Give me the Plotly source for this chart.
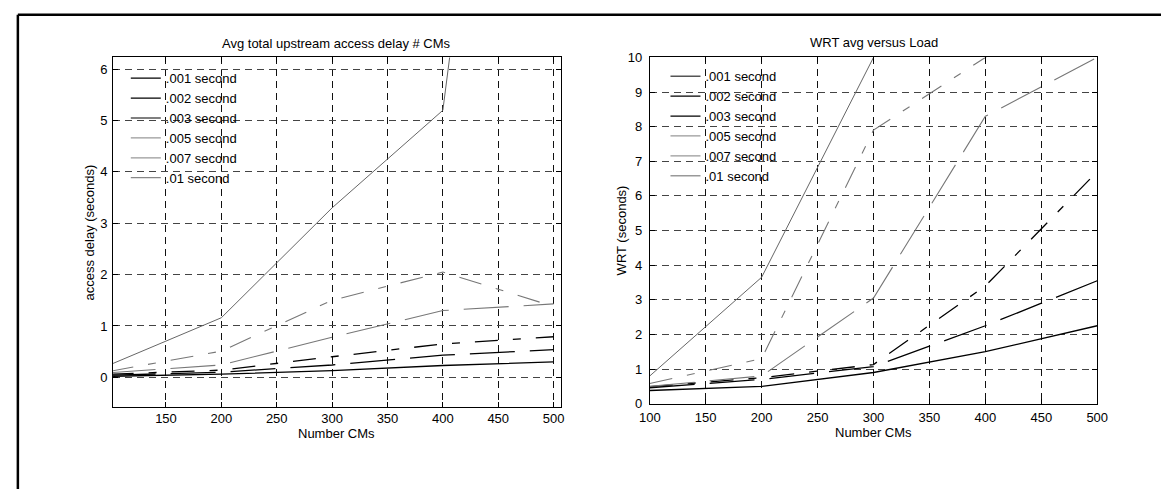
import plotly.graph_objects as go

W, H = 1172, 497

# ---------------- data ----------------
cms = [100, 200, 300, 400, 500]
series_names = [".001 second", ".002 second", ".003 second", ".005 second", ".007 second", ".01 second"]

# Left: average total upstream access delay (seconds)
delay_001 = [0.02, 0.06, 0.13, 0.23, 0.30]
delay_002 = [0.04, 0.10, 0.24, 0.43, 0.54]
delay_003 = [0.06, 0.14, 0.40, 0.65, 0.79]
delay_005 = [0.09, 0.24, 0.78, 1.30, 1.43]
delay_007 = [0.12, 0.51, 1.50, 2.05, 1.38]
delay_01 = [0.25, 1.16, 3.30, 5.20, 22.0]

# Right: WRT average (seconds)
wrt_001 = [0.38, 0.50, 0.90, 1.50, 2.25]
wrt_002 = [0.46, 0.70, 1.07, 2.25, 3.55]
wrt_003 = [0.49, 0.75, 1.13, 3.40, 6.70]
wrt_005 = [0.50, 0.80, 3.05, 8.30, 10.0]
wrt_007 = [0.58, 1.30, 7.90, 10.0, 12.0]
wrt_01 = [0.80, 3.65, 10.0, 18.0, 28.0]

left_ticks_x = [150, 200, 250, 300, 350, 400, 450, 500]
left_ticks_y = [0, 1, 2, 3, 4, 5, 6]
right_ticks_x = [100, 150, 200, 250, 300, 350, 400, 450, 500]
right_ticks_y = [0, 1, 2, 3, 4, 5, 6, 7, 8, 9, 10]

# ---------------- styles ----------------
DASH = "45px,15px"
DASHDOT = "23px,15px,8px,15px"
line_styles = [
    dict(color="#000000", width=1.3, dash="solid"),
    dict(color="#000000", width=1.3, dash=DASH),
    dict(color="#000000", width=1.3, dash=DASHDOT),
    dict(color="#777777", width=1.1, dash=DASH),
    dict(color="#777777", width=1.1, dash=DASHDOT),
    dict(color="#666666", width=1.0, dash="solid"),
]
left_legend_colors = ["#000000", "#000000", "#555555", "#999999", "#999999", "#888888"]
right_legend_colors = ["#555555", "#000000", "#000000", "#999999", "#999999", "#999999"]

FONT = "Liberation Sans, Arial, Helvetica, sans-serif"

def px_x(p):
    return p / W

def px_y(p):
    return 1 - p / H

fig = go.Figure()

left_data = [delay_001, delay_002, delay_003, delay_005, delay_007, delay_01]
right_data = [wrt_001, wrt_002, wrt_003, wrt_005, wrt_007, wrt_01]

for name, ys, st in zip(series_names, left_data, line_styles):
    fig.add_trace(go.Scatter(x=cms, y=ys, mode="lines", name=name, line=st,
                             showlegend=False, xaxis="x", yaxis="y", hoverinfo="skip"))
for name, ys, st in zip(series_names, right_data, line_styles):
    fig.add_trace(go.Scatter(x=cms, y=ys, mode="lines", name=name, line=st,
                             showlegend=False, xaxis="x2", yaxis="y2", hoverinfo="skip"))

# legend entries (solid samples, as in the original)
for name, c in zip(series_names, left_legend_colors):
    fig.add_trace(go.Scatter(x=[None], y=[None], mode="lines", name=name,
                             line=dict(color=c, width=1.3), legend="legend",
                             xaxis="x", yaxis="y"))
for name, c in zip(series_names, right_legend_colors):
    fig.add_trace(go.Scatter(x=[None], y=[None], mode="lines", name=name,
                             line=dict(color=c, width=1.3), legend="legend2",
                             xaxis="x2", yaxis="y2"))

axis_common = dict(
    showline=True, linecolor="black", linewidth=1, mirror="ticks",
    ticks="inside", ticklen=5, tickcolor="black", tickwidth=1,
    showgrid=True, gridwidth=1, griddash="7px,5px",
    zeroline=False, tickfont=dict(family=FONT, size=13, color="black"),
)

fig.update_layout(
    width=W, height=H,
    margin=dict(l=0, r=0, t=0, b=0),
    paper_bgcolor="white", plot_bgcolor="white",
    font=dict(family=FONT, size=13, color="black"),
    xaxis=dict(axis_common, domain=[px_x(104), px_x(561)], range=[102.2, 507.1],
               tickvals=left_ticks_x, gridcolor="#111111", anchor="y",
               ticklabelstandoff=0),
    yaxis=dict(axis_common, domain=[px_y(412), px_y(52)], range=[-0.57, 6.23],
               tickvals=left_ticks_y, gridcolor="#444444", anchor="x",
               ticklabelstandoff=2),
    xaxis2=dict(axis_common, domain=[px_x(651), px_x(1107)], range=[100, 500],
                tickvals=right_ticks_x, gridcolor="#111111", anchor="y2",
                ticklabelstandoff=2),
    yaxis2=dict(axis_common, domain=[px_y(409), px_y(52)], range=[0, 10],
                tickvals=right_ticks_y, gridcolor="#444444", anchor="x2",
                ticklabelstandoff=4),
    legend=dict(x=px_x(117), y=px_y(58), xanchor="left", yanchor="top",
                bgcolor="rgba(0,0,0,0)", borderwidth=0, tracegroupgap=0,
                font=dict(family=FONT, size=13, color="black")),
    legend2=dict(x=px_x(667), y=px_y(56), xanchor="left", yanchor="top",
                 bgcolor="rgba(0,0,0,0)", borderwidth=0, tracegroupgap=0,
                 font=dict(family=FONT, size=13, color="black")),
    showlegend=True,
)

annos = [
    dict(text="Avg total upstream access delay # CMs", x=px_x(332), y=px_y(38)),
    dict(text="WRT avg versus Load", x=px_x(879), y=px_y(37)),
    dict(text="Number CMs", x=px_x(332), y=px_y(440)),
    dict(text="Number CMs", x=px_x(879), y=px_y(439)),
    dict(text="access delay (seconds)", x=px_x(80), y=px_y(232), textangle=-90),
    dict(text="WRT (seconds)", x=px_x(622), y=px_y(230), textangle=-90),
]
for a in annos:
    fig.add_annotation(xref="paper", yref="paper", showarrow=False,
                       xanchor="center", yanchor="middle",
                       font=dict(family=FONT, size=13, color="black"), **a)

# outer frame (top and left edges)
fig.add_shape(type="line", xref="paper", yref="paper",
              x0=px_x(7), y0=px_y(8), x1=1.0, y1=px_y(8),
              line=dict(color="black", width=2.5))
fig.add_shape(type="line", xref="paper", yref="paper",
              x0=px_x(7), y0=px_y(8), x1=px_x(7), y1=0.0,
              line=dict(color="black", width=2.5))

fig.write_html("out.html")
